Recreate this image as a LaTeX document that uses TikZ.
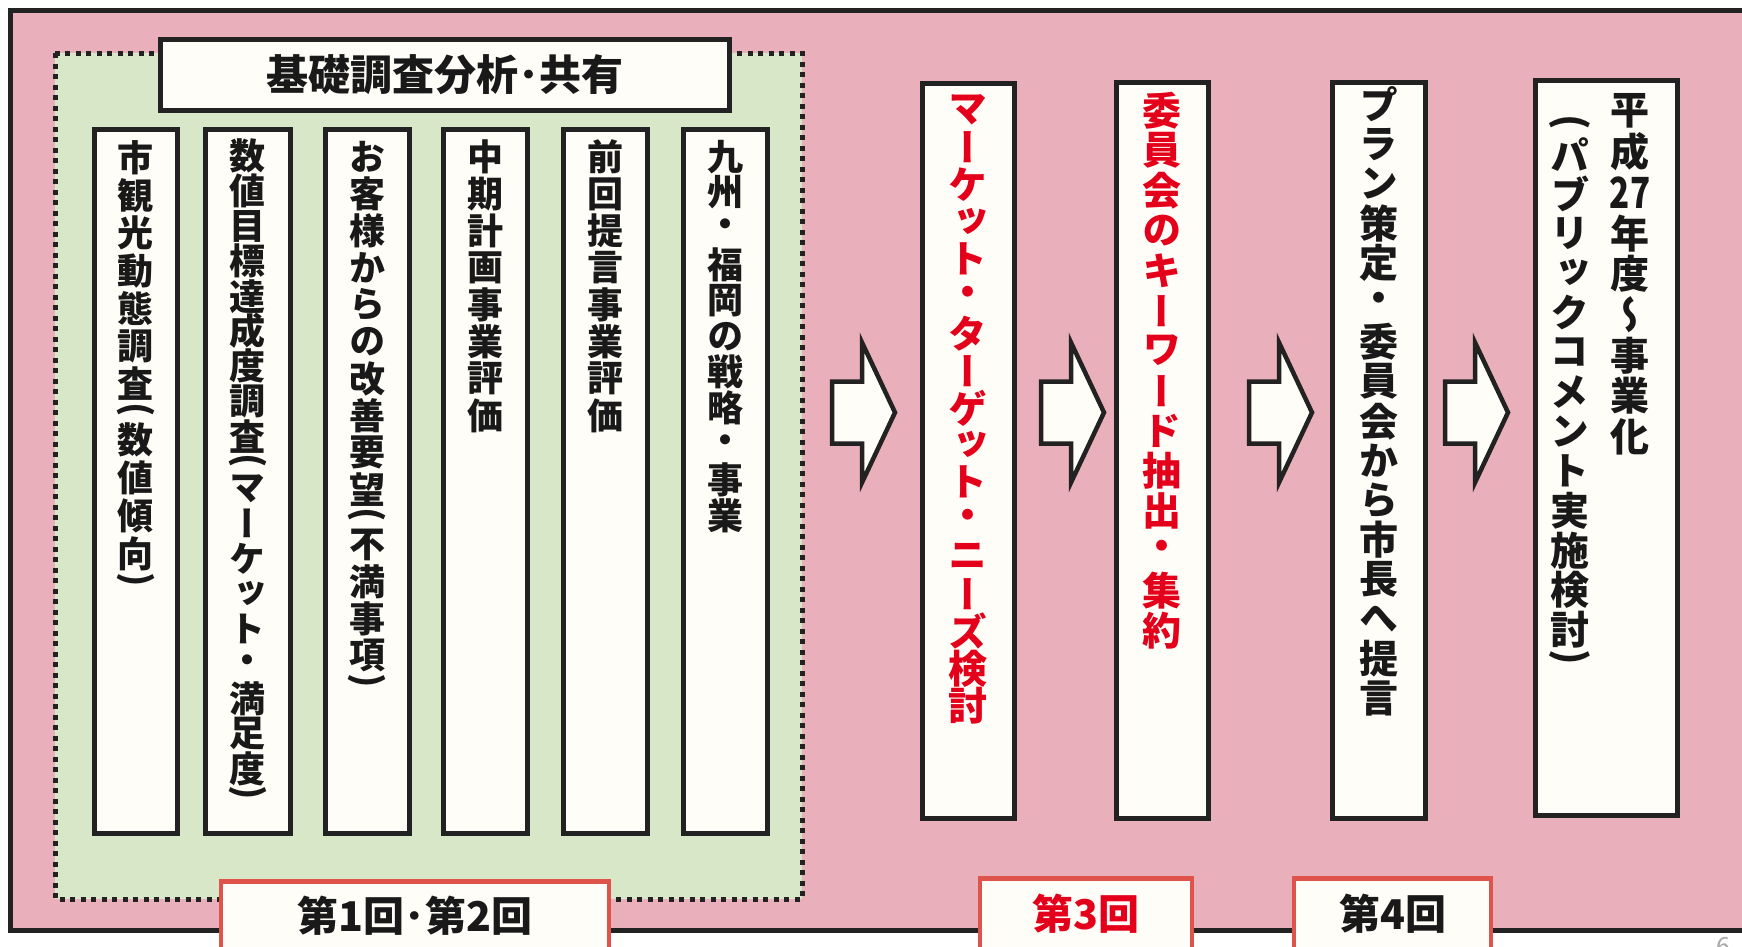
\documentclass[tikz,border=0pt]{standalone}
\usepackage{fontspec}
\usepackage{graphicx}
\newfontfamily\hjp{Noto Sans CJK JP}
\newfontfamily\vjp{Noto Sans CJK JP}[RawFeature=+vert]
\definecolor{pinkbg}{RGB}{233,175,186}
\definecolor{greenbg}{RGB}{217,231,201}
\definecolor{boxfill}{RGB}{255,253,247}
\definecolor{lineblk}{RGB}{34,34,34}
\definecolor{txtred}{RGB}{228,0,26}
\definecolor{txtblk}{RGB}{25,25,25}
\definecolor{labred}{RGB}{222,84,74}
\definecolor{pagegray}{RGB}{170,170,170}

\newlength\vpitch
\makeatletter
\def\vt@end{\vt@end}
\def\vt@lp{（}\def\vt@rp{）}
\newcommand\vtxt[1]{\vbox{\offinterlineskip\vt@loop#1\vt@end}}
\def\vt@loop#1{\ifx\vt@end#1\else\vt@slot{#1}\expandafter\vt@loop\fi}
\def\vt@full#1{\hbox to 1.2em{\hss\vbox to\vpitch{\vss\hbox{#1}\vss}\hss}}
\def\vt@half#1{\hbox to 1.2em{\hss\vbox to .5\vpitch{\vss\hbox{#1}\vss}\hss}}
\def\vt@slot#1{\def\vt@a{#1}%
 \ifx\vt@a\vt@lp\vt@half{\rotatebox[origin=c]{-90}{\hjp\bfseries(}}%
 \else\ifx\vt@a\vt@rp\vt@half{\rotatebox[origin=c]{-90}{\hjp\bfseries)}}%
 \else\vt@full{#1}\fi\fi}
\makeatother
\newcommand\tcy[1]{\scalebox{0.85}[1.1]{#1}}

\begin{document}
\begin{tikzpicture}[x=1pt,y=-1pt,
  colbox/.style={draw=lineblk,line width=5pt,fill=boxfill,inner sep=0pt},
  labbox/.style={draw=labred,line width=4.5pt,fill=boxfill,inner sep=0pt},
  vleft/.style={inner sep=0pt,anchor=north,text=txtblk,font={\vjp\bfseries\fontsize{36}{36}\selectfont}},
  vright/.style={inner sep=0pt,anchor=north,font={\vjp\bfseries\fontsize{39}{39}\selectfont}},
  labtxt/.style={inner sep=0pt,font={\hjp\bfseries\fontsize{41}{41}\selectfont}},
  arrowline/.style={draw=lineblk,line width=4.5pt,fill=boxfill,line join=miter},
  blkarrow/.pic={\path[arrowline] (0,-31) -- (30,-31) -- (30,-70) -- (63,0) -- (30,70) -- (30,31) -- (0,31) -- cycle;}
]
\useasboundingbox (0,0) rectangle (1742,946);
\fill[white] (0,0) rectangle (1742,946);
% outer frame
\draw[line width=5pt,draw=lineblk,fill=pinkbg] (10,10) rectangle (1800,930);
% dotted green group
\draw[line width=5pt,draw=lineblk,dash pattern=on 5pt off 5.5pt,fill=greenbg] (55,53) rectangle (802,899);
% title
\node[colbox,minimum width=569pt,minimum height=71pt,text=txtblk,font={\hjp\bfseries\fontsize{42}{42}\selectfont}] (title) at (444.5,74.5) {基礎調査分析･共有};
% six columns
\node[colbox,minimum width=83pt,minimum height=704pt] (c1) at (135.5,481) {};
\node[colbox,minimum width=85pt,minimum height=704pt] (c2) at (247.5,481) {};
\node[colbox,minimum width=84pt,minimum height=704pt] (c3) at (367,481) {};
\node[colbox,minimum width=84pt,minimum height=704pt] (c4) at (485.5,481) {};
\node[colbox,minimum width=84pt,minimum height=704pt] (c5) at (605,481) {};
\node[colbox,minimum width=84pt,minimum height=704pt] (c6) at (725,481) {};
\node[vleft] (c1t) at ([yshift=-12pt]c1.north) {\vpitch=37.7pt\vtxt{市観光動態調査（数値傾向）}};
\node[vleft] (c2t) at ([yshift=-12pt]c2.north) {\vpitch=35pt\vtxt{数値目標達成度調査（マーケット・満足度）}};
\node[vleft] (c3t) at ([yshift=-12pt]c3.north) {\vpitch=36.9pt\vtxt{お客様からの改善要望（不満事項）}};
\node[vleft] (c4t) at ([yshift=-12pt]c4.north) {\vpitch=36.9pt\vtxt{中期計画事業評価}};
\node[vleft] (c5t) at ([yshift=-12pt]c5.north) {\vpitch=36.9pt\vtxt{前回提言事業評価}};
\node[vleft] (c6t) at ([yshift=-12pt]c6.north) {\vpitch=35.9pt\vtxt{九州・福岡の戦略・事業}};
% right boxes
\node[colbox,minimum width=92pt,minimum height=735pt] (ra) at (968,450.5) {};
\node[colbox,minimum width=92pt,minimum height=736pt] (rb) at (1162,450) {};
\node[colbox,minimum width=93pt,minimum height=736pt] (rc) at (1378.5,450) {};
\node[colbox,minimum width=142pt,minimum height=735pt] (rd) at (1606,447.5) {};
\node[vright,text=txtred] (rat) at ([yshift=-11pt]ra.north) {\vpitch=37.2pt\vtxt{マーケット・ターゲット・ニーズ検討}};
\node[vright,text=txtred] (rbt) at ([yshift=-11pt]rb.north) {\vpitch=40pt\vtxt{委員会のキーワード抽出・集約}};
\node[vright,text=txtblk] (rct) at ([yshift=-5pt]rc.north) {\vpitch=39.6pt\vtxt{プラン策定・委員会から市長へ提言}};
\node[vright,text=txtblk] (rdt1) at ([xshift=24pt,yshift=-13pt]rd.north) {\vpitch=40.7pt\vtxt{平成{\tcy{27}}年度～事業化}};
\node[vright,text=txtblk] (rdt2) at ([xshift=-36pt,yshift=-37pt]rd.north) {\vpitch=39.6pt\vtxt{（パブリックコメント実施検討）}};
% block arrows
\pic at (832,412.5) {blkarrow};
\pic at (1041,412.5) {blkarrow};
\pic at (1249,412.5) {blkarrow};
\pic at (1445,412.5) {blkarrow};
% session labels
\node[labbox,minimum width=388pt,minimum height=90pt,anchor=north] (l12) at (415,879) {};
\node[labbox,minimum width=212pt,minimum height=90pt,anchor=north] (l3) at (1086,876) {};
\node[labbox,minimum width=197pt,minimum height=90pt,anchor=north] (l4) at (1392.5,876) {};
\node[labtxt,text=txtblk] (l12t) at ([yshift=-37pt]l12.north) {第1回･第2回};
\node[labtxt,text=txtred] (l3t) at ([yshift=-38pt]l3.north) {第3回};
\node[labtxt,text=txtblk] (l4t) at ([yshift=-38pt]l4.north) {第4回};
% page number
\node[anchor=north west,inner sep=0pt,text=pagegray,font={\sffamily\fontsize{30}{30}\selectfont}] (pg) at (1716,937) {6};
\end{tikzpicture}
\end{document}
